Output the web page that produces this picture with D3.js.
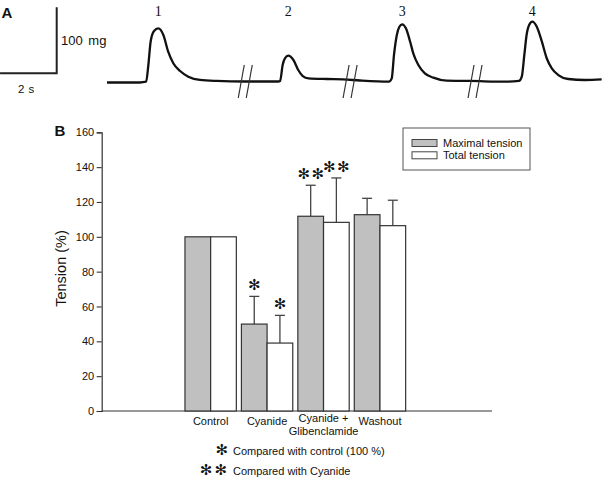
<!DOCTYPE html>
<html><head><meta charset="utf-8">
<script src="https://cdn.jsdelivr.net/npm/d3@7"></script>
<style>
body{margin:0;background:#fff}
svg{display:block}
text{font-family:"Liberation Sans",Arial,sans-serif;fill:#111}
</style>
</head><body>
<svg id="chart" width="605" height="485"></svg>
<script>
// ---------- Panel B data ----------
const categories = ["Control", "Cyanide", "Cyanide +\nGlibenclamide", "Washout"];
const seriesNames = ["Maximal tension", "Total tension"];
const maximalTension = [100, 49.9, 111.8, 112.7];
const totalTension = [100, 39.0, 108.3, 106.4];
const maximalError = [0, 15.9, 17.8, 9.4];
const totalError = [0, 15.9, 25.5, 14.6];
const maximalSig = [0, 1, 2, 0];   // number of significance asterisks
const totalSig = [0, 1, 2, 0];
const yTicks = [0, 20, 40, 60, 80, 100, 120, 140, 160];
const footnotes = [[1, "Compared with control (100 %)"], [2, "Compared with Cyanide"]];

// ---------- Panel A data (time s, tension mg above baseline) ----------
const traceTime = [0,1.16,1.38,1.46,1.54,1.66,1.81,1.99,2.16,2.34,2.58,2.87,3.28,3.87,4.87,6.04,6.11,6.20,6.28,6.40,6.58,6.75,6.91,7.11,7.76,8.33,8.93,9.95,10.05,10.13,10.23,10.32,10.42,10.55,10.70,10.81,10.99,11.22,11.52,11.99,12.81,14.05,14.54,14.64,14.73,14.81,14.90,15.01,15.17,15.35,15.52,15.70,15.93,16.28,16.87,17.46];
const traceTension = [-1.5,-1.5,-0.3,25,60.3,76.5,80.6,70.5,45.2,27.6,15.9,7.3,2.3,0.8,0,0,0.8,25,35.2,39.1,32.6,17.4,8.3,4.8,3.8,3.3,1.5,-0.3,4.8,40.2,70.5,83,86.7,80.6,60.3,42.7,25,12.4,5.8,1.2,0.8,-0.3,0.8,7.3,40.2,70.5,85.6,90.6,83,60.3,35.2,20,9.8,3.8,2.3,3.3];
const breakTimes = [4.88, 8.58, 12.99];
const twitchLabels = ["1", "2", "3", "4"];
const twitchTimes = [1.81, 6.40, 10.42, 15.01];
const scaleBarTime = 2;      // s
const scaleBarTension = 100; // mg

const ASTER = "\u273B";
const svg = d3.select("#chart");

// ================= Panel A =================
const xT = d3.scaleLinear().domain([0, 17.5]).range([107, 602.8]);
const yT = d3.scaleLinear().domain([0, 100]).range([81.5, 15.5]);

svg.append("text").attr("x", 1.5).attr("y", 18)
  .style("font-weight", "bold").style("font-size", "15px").text("A");

// scale bar
const sbX = 56.7, sbY = 73.3;
const sbW = xT(scaleBarTime) - xT(0);
const sbH = yT(0) - yT(scaleBarTension);
svg.append("path")
  .attr("d", `M${sbX - sbW},${sbY}H${sbX}V${sbY - sbH}`)
  .attr("fill", "none").attr("stroke", "#222").attr("stroke-width", 2);
svg.append("text").attr("x", 61).attr("y", 44.5)
  .style("font-size", "13px").style("word-spacing", "2px").text(scaleBarTension + " mg");
svg.append("text").attr("x", 18).attr("y", 93.3)
  .style("font-size", "11.5px").style("word-spacing", "1px").text(scaleBarTime + " s");

// trace
const traceData = traceTime.map((t, i) => [t, traceTension[i]]);
svg.append("path").datum(traceData)
  .attr("d", d3.line().x(d => xT(d[0])).y(d => yT(d[1])).curve(d3.curveMonotoneX))
  .attr("fill", "none").attr("stroke", "#111").attr("stroke-width", 2.3)
  .attr("stroke-linejoin", "round");

// break marks
breakTimes.forEach(t => {
  [-4, 4].forEach(o => {
    svg.append("line")
      .attr("x1", xT(t) + o - 3).attr("y1", yT(-25))
      .attr("x2", xT(t) + o + 3).attr("y2", yT(25))
      .attr("stroke", "#333").attr("stroke-width", 1.2);
  });
});

// twitch labels
twitchLabels.forEach((l, i) => {
  svg.append("text").attr("x", xT(twitchTimes[i])).attr("y", 15.5)
    .attr("text-anchor", "middle")
    .style("font-family", "'Liberation Serif','Times New Roman',serif")
    .style("font-size", "14px").text(l);
});

// ================= Panel B =================
const y = d3.scaleLinear().domain([0, 160]).range([411, 132.3]);
const x0 = d3.scaleBand().domain(categories).range([102, 492])
  .paddingInner(0.09).paddingOuter(1.5).align(0.49);
const x1 = d3.scaleBand().domain(seriesNames).range([0, x0.bandwidth()]);

svg.append("text").attr("x", 54.5).attr("y", 135.5)
  .style("font-weight", "bold").style("font-size", "15px").text("B");

// y axis
const yAxis = svg.append("g").attr("transform", "translate(101.7,0)")
  .call(d3.axisLeft(y).tickValues(yTicks).tickSize(5).tickPadding(2.5));
yAxis.select(".domain").attr("stroke", "#333").attr("stroke-width", 1.2);
yAxis.selectAll(".tick line").attr("stroke", "#333").attr("stroke-width", 1.1);
yAxis.selectAll(".tick text").style("font-size", "11px")
  .style("font-family", "'Liberation Sans',Arial,sans-serif").attr("fill", "#111");

svg.append("text")
  .attr("transform", "translate(65.5,268.5) rotate(-90)")
  .attr("text-anchor", "middle").style("font-size", "14.5px").text("Tension (%)");

// x axis line
svg.append("line").attr("x1", 101.7).attr("x2", 492).attr("y1", 411).attr("y2", 411)
  .attr("stroke", "#333").attr("stroke-width", 1.2);

const series = [
  {name: seriesNames[0], vals: maximalTension, err: maximalError, sig: maximalSig, fill: "#c0c0c0"},
  {name: seriesNames[1], vals: totalTension, err: totalError, sig: totalSig, fill: "#ffffff"}
];

series.forEach(s => {
  categories.forEach((c, i) => {
    const bx = x0(c) + x1(s.name);
    const bw = x1.bandwidth();
    const cx = bx + bw / 2;
    const v = s.vals[i], e = s.err[i];
    if (e > 0) {
      svg.append("line").attr("x1", cx).attr("x2", cx)
        .attr("y1", y(v)).attr("y2", y(v + e))
        .attr("stroke", "#444").attr("stroke-width", 1.3);
      svg.append("line").attr("x1", cx - 5).attr("x2", cx + 5)
        .attr("y1", y(v + e)).attr("y2", y(v + e))
        .attr("stroke", "#444").attr("stroke-width", 1.3);
    }
    svg.append("rect").attr("x", bx).attr("y", y(v))
      .attr("width", bw).attr("height", y(0) - y(v))
      .attr("fill", s.fill).attr("stroke", "#333").attr("stroke-width", 1.2);
    const n = s.sig[i];
    for (let k = 0; k < n; k++) {
      const off = n === 1 ? 0 : (k === 0 ? -7 : 7);
      svg.append("text").attr("x", cx + off).attr("y", y(v + e) - 11.5)
        .attr("dy", "0.35em").attr("text-anchor", "middle")
        .style("font-family", "'DejaVu Sans',sans-serif")
        .style("font-size", "15px").text(ASTER);
    }
  });
});

// x labels
categories.forEach(c => {
  const lines = c.split("\n");
  const cx = x0(c) + x0.bandwidth() / 2;
  const t = svg.append("text").attr("text-anchor", "middle").style("font-size", "11px");
  if (lines.length === 1) {
    t.attr("x", cx).attr("y", 425).text(c);
  } else {
    lines.forEach((l, j) => {
      t.append("tspan").attr("x", cx).attr("y", 421.5 + j * 13.5).text(l);
    });
  }
});

// legend
const lg = svg.append("g");
lg.append("rect").attr("x", 403).attr("y", 128).attr("width", 127).attr("height", 42)
  .attr("fill", "#fff").attr("stroke", "#555").attr("stroke-width", 1);
series.forEach((s, i) => {
  lg.append("rect").attr("x", 412).attr("y", 139.5 + i * 12.3).attr("width", 25).attr("height", 7)
    .attr("fill", s.fill).attr("stroke", "#444").attr("stroke-width", 1);
  lg.append("text").attr("x", 443).attr("y", 146.8 + i * 11.8)
    .style("font-size", "11px").text(s.name);
});

// footnotes
footnotes.forEach((f, i) => {
  const yy = 450 + i * 20;
  const n = f[0];
  for (let k = 0; k < n; k++) {
    const ax = n === 1 ? 221.7 : (k === 0 ? 206 : 220.7);
    svg.append("text").attr("x", ax).attr("y", yy).attr("dy", "0.35em")
      .attr("text-anchor", "middle")
      .style("font-family", "'DejaVu Sans',sans-serif").style("font-size", "15px").text(ASTER);
  }
  svg.append("text").attr("x", 233).attr("y", yy + 4.5).style("font-size", "11px").text(f[1]);
});
</script>
</body></html>
